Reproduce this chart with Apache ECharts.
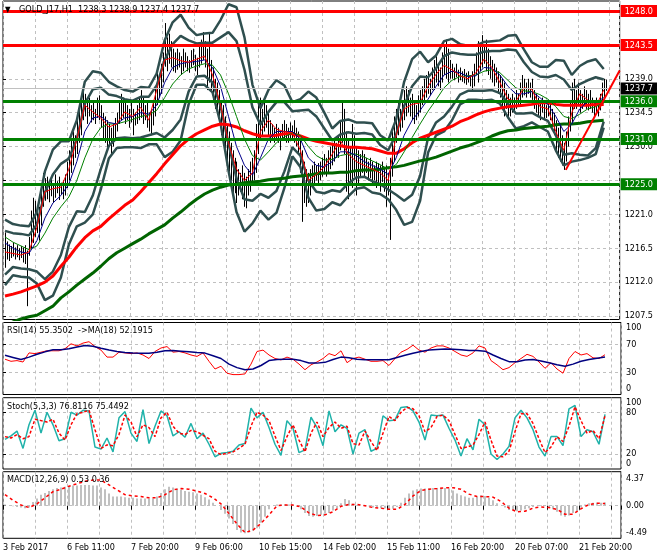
<!DOCTYPE html>
<html><head><meta charset="utf-8">
<script src="https://cdn.jsdelivr.net/npm/echarts@6/dist/echarts.min.js"></script>
<style>html,body{margin:0;padding:0;background:#fff}#c{width:660px;height:560px}</style>
</head><body><div id="c"></div>
<script>
const FONT = "'DejaVu Sans Condensed','Liberation Sans',sans-serif";

// ---- x axis ----
const timeLabels = ['3 Feb 2017','6 Feb 11:00','7 Feb 20:00','9 Feb 06:00','10 Feb 15:00','14 Feb 02:00','15 Feb 11:00','16 Feb 20:00','20 Feb 07:00','21 Feb 20:00'];
const barsPerLabel = 32;

// ---- price axis ----
const priceTicks = [1207.5,1212.0,1216.5,1221.0,1225.5,1230.0,1234.5,1239.0,1243.5,1248.0];
const priceLabels = [1207.5,1212.0,1216.5,1221.0,1225.0,1230.0,1231.0,1234.5,1236.0,1237.7,1239.0,1243.5,1248.0];
const redLevels = [1248.0,1243.5];
const greenLevels = [1236.0,1231.0,1225.0];
const bidPrice = 1237.7;
const trendLine = [[282,1226.9],[309,1240.1]];

// ---- hourly bars (bar n = index+1) ----
const barHigh = [
1218.6,1217.4,1217.0,1216.8,1217.2,1216.6,1216.9,1216.5,1216.8,1216.6,
1216.9,1216.2,1218.0,1221.5,1223.2,1222.8,1221.5,1222.0,1223.8,1226.5,
1225.8,1226.0,1225.2,1225.8,1225.0,1226.3,1225.4,1226.0,1225.2,1225.5,
1226.3,1228.0,1229.5,1231.0,1232.0,1231.5,1233.5,1234.8,1236.5,1237.6,
1237.0,1236.0,1236.5,1235.5,1235.8,1235.0,1236.5,1236.8,1235.5,1234.5,
1234.0,1233.5,1233.0,1232.5,1233.0,1233.8,1234.5,1236.0,1237.0,1236.5,
1236.0,1235.5,1235.0,1235.8,1235.0,1234.5,1235.5,1236.5,1237.5,1236.5,
1235.5,1235.8,1234.5,1235.0,1236.0,1238.0,1240.0,1239.5,1241.0,1242.5,
1246.4,1244.5,1245.0,1244.0,1243.0,1242.5,1243.0,1242.5,1242.0,1243.0,
1242.5,1242.0,1241.5,1242.8,1243.0,1242.2,1241.8,1243.5,1244.2,1245.2,
1244.0,1243.0,1245.0,1241.5,1240.5,1239.0,1238.5,1237.5,1236.0,1235.5,
1234.0,1233.0,1232.0,1230.5,1229.5,1228.5,1228.0,1227.0,1226.5,1227.5,
1226.5,1226.0,1227.0,1228.0,1228.5,1229.5,1233.0,1235.5,1236.5,1235.0,
1236.5,1235.5,1234.5,1233.5,1233.0,1232.5,1233.0,1232.5,1232.0,1233.0,
1233.5,1233.0,1232.5,1233.2,1232.8,1233.5,1232.5,1232.0,1231.0,1229.5,
1228.0,1227.0,1226.5,1227.0,1227.5,1228.0,1227.5,1227.8,1228.0,1228.5,
1229.0,1228.5,1229.5,1230.0,1230.5,1231.0,1230.5,1231.5,1233.5,1235.8,
1235.0,1232.0,1231.0,1230.0,1233.0,1231.5,1230.0,1229.5,1229.0,1229.5,
1229.0,1228.5,1228.0,1228.5,1228.0,1227.5,1228.0,1227.8,1227.5,1228.0,
1227.0,1227.5,1226.5,1228.5,1232.0,1234.0,1235.0,1235.8,1235.0,1236.0,
1237.5,1238.0,1237.5,1236.5,1237.0,1236.0,1235.5,1236.8,1237.5,1238.0,
1239.0,1239.5,1240.0,1239.0,1240.5,1241.5,1242.0,1241.0,1240.5,1242.5,
1243.5,1244.2,1243.0,1241.5,1241.0,1240.5,1241.0,1240.2,1240.5,1240.0,
1240.3,1239.8,1240.0,1239.5,1240.0,1241.0,1242.5,1244.0,1243.5,1244.8,
1243.5,1244.2,1243.0,1242.0,1241.5,1241.0,1240.5,1240.0,1239.5,1239.0,
1238.5,1237.5,1237.0,1236.5,1237.0,1236.5,1237.5,1237.0,1238.5,1239.5,
1239.0,1238.5,1239.0,1238.5,1239.0,1237.5,1237.0,1236.5,1236.0,1236.5,
1236.0,1235.5,1236.2,1235.8,1235.0,1234.5,1233.5,1232.5,1233.0,1231.5,
1230.5,1232.0,1234.0,1236.0,1238.5,1239.0,1237.5,1238.5,1237.5,1237.0,
1238.0,1237.5,1237.0,1237.5,1236.5,1236.0,1236.5,1236.0,1237.0,1238.5,
1239.0,1238.9];
const barLow = [
1213.9,1215.0,1214.8,1215.2,1215.4,1215.0,1215.3,1214.9,1215.2,1214.6,
1214.4,1208.8,1215.5,1216.5,1217.2,1218.0,1218.5,1217.5,1219.5,1222.0,
1222.8,1223.0,1222.6,1223.4,1222.5,1223.2,1223.8,1222.9,1223.6,1223.0,
1223.5,1224.5,1225.5,1226.5,1227.5,1228.5,1229.0,1230.5,1231.5,1233.5,
1234.0,1233.0,1234.0,1233.2,1233.5,1233.0,1233.8,1233.5,1232.5,1231.0,
1230.5,1229.5,1230.0,1229.0,1230.0,1231.0,1232.0,1233.0,1233.5,1233.8,
1233.0,1233.5,1232.5,1233.2,1231.5,1232.8,1233.0,1233.5,1233.8,1233.0,
1233.5,1232.5,1232.0,1231.5,1232.8,1234.0,1235.5,1236.5,1237.0,1238.5,
1240.6,1240.0,1241.0,1240.5,1240.0,1239.8,1240.2,1240.5,1239.5,1240.0,
1240.5,1240.0,1239.8,1240.5,1240.8,1240.0,1239.5,1240.5,1241.0,1241.5,
1240.5,1237.5,1238.5,1237.5,1236.0,1235.0,1234.5,1233.5,1231.5,1230.5,
1229.5,1227.5,1226.5,1225.5,1223.3,1223.8,1222.5,1223.5,1224.0,1223.0,
1222.0,1221.8,1223.5,1224.0,1225.0,1225.5,1226.5,1229.0,1231.0,1231.5,
1232.0,1232.5,1231.5,1230.5,1230.8,1230.5,1231.0,1230.5,1229.5,1230.8,
1231.0,1230.5,1230.5,1231.0,1230.8,1230.5,1230.0,1229.0,1226.5,1220.0,
1222.5,1222.0,1222.5,1223.5,1224.5,1225.0,1225.5,1225.0,1225.5,1226.0,
1226.3,1226.0,1226.5,1227.0,1227.5,1228.0,1228.5,1228.5,1229.5,1230.5,
1229.0,1224.0,1223.0,1225.0,1224.5,1226.0,1223.5,1225.0,1226.0,1226.5,
1226.0,1226.5,1225.5,1225.8,1225.0,1225.5,1224.5,1225.0,1224.0,1225.3,
1224.0,1222.0,1223.5,1217.6,1226.0,1228.0,1230.5,1231.5,1232.0,1232.5,
1233.5,1234.0,1234.5,1234.0,1233.5,1233.0,1233.5,1234.0,1234.5,1235.5,
1236.0,1236.5,1237.0,1236.8,1237.5,1237.5,1238.5,1238.0,1237.5,1238.5,
1239.5,1239.0,1238.5,1239.0,1239.0,1238.8,1239.2,1238.5,1238.8,1238.6,
1238.4,1238.2,1238.5,1238.0,1237.5,1238.0,1239.5,1238.5,1240.0,1240.5,
1241.0,1240.0,1239.5,1239.0,1238.5,1238.0,1238.5,1237.0,1236.5,1235.0,
1234.0,1235.0,1233.8,1234.0,1234.5,1234.5,1235.0,1235.5,1235.5,1236.5,
1236.8,1236.5,1237.0,1236.5,1236.2,1235.0,1234.5,1234.0,1233.5,1234.5,
1233.5,1233.8,1234.0,1233.5,1233.0,1231.5,1229.5,1228.5,1228.0,1227.5,
1226.9,1228.0,1230.0,1232.0,1233.0,1235.0,1235.0,1235.5,1234.5,1235.0,
1235.5,1235.0,1234.8,1235.0,1234.5,1234.0,1234.5,1234.0,1234.8,1235.5,
1236.5,1237.4];

// ---- main-window indicators, read every 4 bars starting at bar 1 ----
const maStep = 4;
const maFast = [
1216.0,1215.8,1215.6,1216.0,1219.3,1224.0,1224.4,1224.6,1227.0,1231.0,
1235.5,1234.6,1233.8,1232.6,1233.0,1234.6,1234.0,1235.2,1233.5,1237.5,
1241.5,1241.8,1241.4,1241.2,1241.6,1242.0,1239.5,1235.5,1230.5,1227.0,
1225.5,1226.5,1232.0,1233.5,1232.3,1232.0,1231.8,1229.5,1225.5,1226.3,
1227.3,1229.0,1230.8,1229.0,1228.0,1227.5,1227.0,1226.5,1225.5,1231.5,
1235.0,1235.6,1235.8,1238.0,1239.6,1240.8,1240.2,1239.4,1239.0,1239.8,
1241.6,1240.5,1238.5,1236.3,1236.0,1237.8,1237.6,1235.3,1235.0,1232.0,
1229.5,1234.5,1237.0,1236.2,1235.3,1237.5];
const maMid = [
1217.2,1216.5,1216.0,1215.8,1217.5,1220.5,1222.5,1223.5,1225.0,1228.0,
1232.0,1233.8,1234.0,1233.2,1233.0,1233.8,1234.0,1234.5,1234.3,1235.5,
1238.5,1240.5,1241.0,1241.2,1241.3,1241.5,1240.5,1238.0,1234.0,1230.0,
1227.5,1226.2,1228.5,1231.0,1232.0,1232.0,1232.0,1231.0,1228.5,1227.5,
1227.3,1228.0,1229.3,1229.3,1228.8,1228.0,1227.5,1227.0,1226.3,1228.5,
1231.5,1233.5,1234.8,1236.3,1238.0,1239.5,1240.0,1239.8,1239.3,1239.4,
1240.5,1240.4,1239.5,1238.0,1237.0,1237.0,1237.3,1236.5,1235.6,1234.0,
1232.0,1233.0,1235.0,1236.0,1235.8,1236.5];
const maSlow = [
1218.0,1217.3,1216.8,1216.3,1216.8,1218.5,1220.5,1222.0,1223.3,1225.5,
1228.5,1231.0,1232.5,1233.0,1233.0,1233.3,1233.6,1234.0,1234.2,1234.8,
1236.5,1238.3,1239.5,1240.3,1240.7,1241.0,1240.8,1239.5,1237.0,1234.0,
1231.0,1228.8,1228.2,1229.3,1230.5,1231.3,1231.8,1231.5,1230.0,1228.8,
1228.2,1228.3,1228.8,1229.0,1229.0,1228.6,1228.1,1227.6,1227.0,1227.6,
1229.3,1231.2,1233.0,1234.7,1236.2,1237.8,1238.8,1239.3,1239.4,1239.5,
1240.0,1240.2,1239.8,1238.8,1237.8,1237.4,1237.3,1236.9,1236.3,1235.3,
1234.0,1233.7,1234.3,1235.0,1235.3,1235.8];
const maLongRed = [
1210.15,1210.4,1210.7,1211.1,1211.5,1212.0,1212.8,1214.1,1215.3,1216.7,
1217.9,1218.8,1219.4,1220.4,1221.3,1222.2,1222.9,1224.0,1225.2,1226.4,
1227.7,1228.9,1230.1,1231.0,1231.7,1232.2,1232.7,1233.0,1232.9,1232.6,
1232.1,1231.7,1231.4,1231.4,1231.5,1231.7,1231.7,1231.4,1231.0,1230.7,
1230.5,1230.3,1230.1,1229.9,1229.9,1229.8,1229.7,1229.4,1229.1,1229.1,
1229.7,1230.5,1231.1,1231.5,1231.9,1232.3,1232.7,1233.3,1233.7,1234.2,
1234.6,1234.9,1235.1,1235.3,1235.4,1235.5,1235.6,1235.8,1235.8,1235.6,
1235.5,1235.5,1235.5,1235.5,1235.6,1235.6];
const maLongGreen = [
1206.3,1206.7,1207.1,1207.4,1207.6,1208.2,1208.8,1209.9,1210.7,1211.6,
1212.4,1213.2,1214.1,1215.1,1215.9,1216.5,1217.1,1217.7,1218.4,1219.0,
1219.6,1220.5,1221.3,1222.2,1223.0,1223.7,1224.2,1224.6,1224.9,1225.0,
1225.2,1225.3,1225.4,1225.6,1225.7,1225.8,1226.0,1226.1,1226.2,1226.4,
1226.5,1226.5,1226.6,1226.6,1226.8,1226.9,1226.9,1227.0,1227.2,1227.3,
1227.5,1227.8,1228.1,1228.3,1228.6,1229.0,1229.4,1229.8,1230.1,1230.5,
1230.9,1231.4,1231.8,1232.1,1232.2,1232.4,1232.5,1232.6,1232.7,1232.9,
1233.0,1233.0,1233.1,1233.3,1233.4,1233.5];
// Bollinger envelopes (dark slate lines), read every 4 bars
const bbInnerUp = [
1218.8,1218.5,1218.4,1218.2,1219.7,1223.9,1226.3,1227.7,1228.4,1231.0,
1235.7,1237.6,1237.8,1236.9,1236.7,1236.3,1236.1,1236.6,1236.6,1238.1,
1241.5,1243.6,1244.7,1244.1,1243.7,1243.8,1243.8,1244.5,1245.2,1244.0,
1240.2,1235.2,1232.9,1234.6,1235.9,1235.9,1234.7,1234.8,1234.9,1234.0,
1232.4,1230.8,1231.6,1231.9,1231.7,1231.8,1231.6,1230.2,1229.5,1231.6,
1235.4,1238.0,1239.3,1239.2,1240.4,1242.0,1242.5,1242.3,1242.2,1242.2,
1242.6,1242.7,1242.7,1242.9,1242.8,1241.2,1239.9,1239.3,1239.2,1239.5,
1238.9,1237.5,1238.3,1238.8,1239.2,1238.9];
const bbInnerLo = [
1213.0,1214.0,1213.8,1213.7,1213.4,1212.4,1213.4,1215.6,1219.3,1221.4,
1221.3,1223.5,1227.0,1230.1,1231.1,1231.2,1231.1,1231.2,1231.5,1231.8,
1231.2,1232.2,1233.6,1237.3,1239.3,1239.4,1238.5,1235.4,1230.4,1225.8,
1223.0,1222.8,1223.7,1223.2,1224.1,1226.7,1229.9,1228.8,1225.5,1224.0,
1223.8,1224.2,1224.0,1225.1,1225.9,1226.0,1225.4,1225.0,1224.3,1223.6,
1222.8,1223.6,1226.1,1231.2,1233.2,1234.0,1235.3,1236.9,1237.4,1237.4,
1237.4,1237.5,1237.1,1235.7,1234.4,1234.4,1234.5,1233.9,1233.4,1231.5,
1228.9,1229.1,1228.9,1228.8,1229.8,1233.3];
const bbOuterUp = [
1220.3,1219.7,1219.5,1219.4,1221.3,1226.7,1229.6,1230.7,1230.7,1233.5,
1238.6,1240.0,1239.8,1238.6,1238.0,1237.5,1237.3,1237.9,1237.8,1239.7,
1244.1,1246.5,1247.5,1245.8,1244.8,1245.0,1245.1,1246.8,1248.9,1248.5,
1244.5,1238.2,1235.1,1237.5,1238.8,1238.1,1235.9,1236.3,1237.3,1236.5,
1234.5,1232.4,1233.4,1233.6,1233.2,1233.2,1233.1,1231.5,1230.8,1233.6,
1238.6,1241.6,1242.6,1241.2,1242.1,1244.0,1244.3,1243.6,1243.4,1243.4,
1243.9,1244.0,1244.1,1244.7,1244.8,1242.9,1241.2,1240.6,1240.6,1241.5,
1241.4,1239.5,1240.7,1241.3,1241.6,1240.3];
const bbOuterLo = [
1211.6,1212.9,1212.7,1212.6,1211.8,1209.6,1210.2,1212.6,1217.0,1219.4,
1219.9,1221.0,1224.3,1228.4,1229.8,1229.9,1229.9,1229.8,1230.3,1230.3,
1228.6,1229.3,1230.8,1235.6,1238.2,1238.2,1237.2,1233.1,1226.8,1221.3,
1218.7,1219.8,1221.5,1220.3,1221.2,1224.5,1228.7,1227.3,1223.2,1221.5,
1221.7,1222.6,1222.2,1223.4,1224.4,1224.6,1223.9,1223.7,1223.0,1221.6,
1219.6,1220.0,1222.8,1229.2,1231.5,1232.0,1233.5,1235.6,1236.2,1236.2,
1236.1,1236.2,1235.7,1233.9,1232.4,1232.7,1233.2,1232.6,1232.0,1229.5,
1227.5,1228.0,1228.2,1228.5,1229.0,1232.5];

// ---- RSI window ----
const oscStep = 3;
const rsi = [
49,46,47,45,58,57,59,61,61,61,
64,71,68,72,74,67,62,52,52,59,
58,57,58,55,50,60,65,67,59,60,
58,55,53,58,46,35,39,29,27,27,
28,42,60,62,55,50,48,52,49,42,
34,41,45,50,57,54,61,44,50,52,
49,46,46,47,40,50,59,63,69,62,
59,65,68,68,65,60,55,53,58,68,
65,47,41,34,37,44,50,56,53,45,
36,44,35,29,50,60,55,57,51,50,
55.4];
const rsiMA = [
54.5,51.5,48.5,52,56,59.5,62.5,62.5,64,66.5,
68.5,67.5,64.5,62,60,58.5,57.7,57.5,57.5,59,
61,61.5,60.5,59.5,58.5,57.7,54,50,42,37,
34,35,40,47,48.5,49,49,47,43.5,43.4,
44.5,48.5,52,51,49,48.2,48.2,48.2,48.2,51.5,
54.5,57.5,60,62.2,63,63.4,63.2,62.5,61.5,61.5,
60.5,55,50,45.5,45.5,48,48.5,46.5,44,41,
38.8,42,46,48.5,50.5,52.2];
const rsiLabels = [0,30,70,100];
const rsiLevels = [30,70];

// ---- Stochastic window ----
const stochMain = [
41,46,53,28,62,83,50,80,62,39,
42,80,76,83,82,30,27,43,23,72,
81,50,38,84,35,60,82,75,46,52,
44,64,42,50,34,16,21,22,24,33,
35,86,72,80,58,34,18,68,57,22,
26,73,58,32,82,52,62,57,20,50,
55,24,28,75,68,69,87,88,82,66,
40,76,75,76,57,40,17,42,26,70,
62,20,12,20,31,72,83,72,55,30,
17,45,45,32,85,90,45,55,52,34,
77];
const stochSignal = [
45,43,48,42,45,70,68,66,70,50,
40,62,78,80,83,55,28,33,32,48,
76,66,45,62,58,45,72,80,60,50,
48,54,52,47,42,24,19,21,23,28,
34,60,80,76,68,46,25,45,62,40,
23,50,66,45,58,66,57,60,35,33,
53,38,25,50,74,68,80,87,85,75,
52,58,74,76,68,48,28,30,33,48,
66,40,17,16,24,52,78,78,64,42,
22,30,45,38,60,88,68,50,54,42,
75];
const stochLabels = [0,20,80,100];
const stochLevels = [20,80];

// ---- MACD window ----
const histStep = 2;
const macdHist = [
0.2,0.0,-0.1,-0.2,-0.3,-0.4,-0.3,0.6,1.2,1.8,
2.1,2.4,2.7,2.9,3.0,3.1,3.2,3.3,3.3,3.4,
3.4,3.4,3.3,3.3,3.0,2.7,2.0,1.5,1.5,1.5,
1.4,1.3,1.3,1.2,1.2,1.2,1.2,1.2,1.5,2.1,
2.7,3.1,3.0,2.8,2.6,2.4,2.3,2.2,2.0,1.8,
1.4,1.0,0.5,0.0,-0.7,-1.3,-2.1,-3.0,-4.0,-4.4,
-4.5,-4.4,-4.1,-3.7,-2.8,-1.8,-0.6,0.0,0.2,0.2,
0.2,0.2,0.1,0.0,-0.6,-1.2,-1.7,-1.8,-1.7,-1.5,
-1.3,-1.2,-0.8,-0.4,0.4,1.1,0.9,0.3,0.1,0.0,
0.0,-0.1,-0.3,-0.3,-0.4,-0.4,-0.5,-0.5,-0.2,0.5,
1.3,2.0,2.5,2.7,2.8,2.8,2.8,2.9,2.9,2.95,
2.9,2.8,2.5,2.0,1.7,1.5,1.3,1.3,1.5,1.7,
1.6,1.3,0.9,0.4,0.0,-0.3,-0.7,-0.8,-0.9,-0.8,
-0.6,-0.4,-0.2,0.0,0.1,0.0,-0.2,-0.6,-1.0,-1.6,
-1.8,-1.6,-1.2,-0.9,-0.3,0.2,0.4,0.5,0.5,0.5,
0.53];
const macdSignal = [
1.8,0.9,0.1,-0.3,0.3,1.3,2.3,2.7,3.2,3.6,
4.0,4.2,4.2,3.4,2.6,1.8,1.6,1.5,1.3,1.3,
1.8,2.6,2.8,2.7,2.4,2.0,1.3,0.3,-1.3,-3.0,
-4.4,-4.0,-2.9,-1.5,0.0,0.1,0.1,-0.2,-1.2,-1.6,
-1.5,-1.0,-0.1,0.2,0.2,0.0,-0.3,-0.4,-0.6,-0.6,
0.2,1.6,2.5,2.7,2.8,2.95,2.95,2.7,1.9,1.5,
1.5,1.4,0.7,-0.4,-1.0,-0.9,-0.4,-0.2,-0.3,-0.6,
-1.4,-1.4,-0.5,0.2,0.4,0.36];
const macdLabels = [-4.49,0,4.37];
const macdLevels = [0];

// ---- build ----
const pairs = (arr, step) => arr.map((v, i) => [1 + i * step, v]);
const X_MAX = 309;
const GRID_LINE = {color:'#c0c0c0', type:[3,3], width:1};
const labelPos = timeLabels.map((_, i) => i * barsPerLabel);

function xAxisFor(gridIndex, showLabels) {
  return {
    type:'value', gridIndex, min:0, max:X_MAX, interval:16,
    axisLine:{show:false},
    axisTick: showLabels ? {show:true, length:4, lineStyle:{color:'#000'}} : {show:false},
    axisLabel: showLabels ? {show:true, customValues:labelPos, formatter: v => timeLabels[Math.round(v / barsPerLabel)] || '',
      align:'left', margin:5, fontSize:9, fontFamily:FONT, color:'#000'} : {show:false},
    splitLine:{show:true, lineStyle:GRID_LINE}
  };
}
function oscAxis(gridIndex, min, max, ticks, labels, fmt) {
  return {
    type:'value', gridIndex, position:'right', min, max,
    axisLine:{show:false},
    axisTick:{show:true, customValues:ticks, length:3, lineStyle:{color:'#000'}},
    splitLine:{show:true, lineStyle:GRID_LINE},
    axisLabel:{customValues:labels, formatter:fmt, fontSize:9, fontFamily:FONT, color:'#000', margin:5,
      verticalAlignMinLabel:'bottom', verticalAlignMaxLabel:'top'}
  };
}
const lineS = (name, data, x, y, color, width, extra) => Object.assign({
  name, type:'line', xAxisIndex:x, yAxisIndex:y, data, symbol:'none', showSymbol:false, silent:true,
  animation:false, lineStyle:{color, width}, z:3
}, extra || {});
const BB = '#2f4f4f';

const option = {
  animation:false,
  backgroundColor:'#fff',
  grid:[
    {left:3, top:1, width:618, height:318.5, show:true, borderColor:'#000', borderWidth:1},
    {left:3, top:322.5, width:618, height:72, show:true, borderColor:'#000', borderWidth:1},
    {left:3, top:397.7, width:618, height:71.3, show:true, borderColor:'#000', borderWidth:1},
    {left:3, top:471.7, width:618, height:66.6, show:true, borderColor:'#000', borderWidth:1}
  ],
  xAxis:[xAxisFor(0,false), xAxisFor(1,false), xAxisFor(2,false), xAxisFor(3,true)],
  yAxis:[
    {type:'value', gridIndex:0, position:'right', min:1207.03, max:1249.33,
      axisLine:{show:false},
      axisTick:{show:true, customValues:priceTicks, length:3, lineStyle:{color:'#000'}},
      splitLine:{show:true, lineStyle:GRID_LINE},
      axisLabel:{customValues:priceLabels, margin:1, fontSize:9, fontFamily:FONT, color:'#000',
        formatter: v => {
          const s = v.toFixed(1);
          if (redLevels.includes(v)) return '{r|' + s + '}';
          if (greenLevels.includes(v)) return '{g|' + s + '}';
          if (v === bidPrice) return '{b|' + s + '}';
          return '{p|' + s + '}';
        },
        rich:{
          p:{padding:[0,0,0,4], color:'#000', fontSize:9, fontFamily:FONT},
          r:{backgroundColor:'#ff0000', color:'#fff', padding:[2,4,1,4], fontSize:9, fontFamily:FONT},
          g:{backgroundColor:'#008000', color:'#fff', padding:[2,4,1,4], fontSize:9, fontFamily:FONT},
          b:{backgroundColor:'#000000', color:'#fff', padding:[2,4,1,4], fontSize:9, fontFamily:FONT}
        }}},
    oscAxis(1, -1.4, 101.4, rsiLevels, rsiLabels, v => String(v)),
    oscAxis(2, -1.6, 101, stochLevels, stochLabels, v => String(v)),
    Object.assign(oscAxis(3, -5.34, 5.57, macdLevels, macdLabels, v => v.toFixed(2)),
      {axisLabel:{customValues:macdLabels, formatter:v => v.toFixed(2), fontSize:9, fontFamily:FONT, color:'#000', margin:5}})
  ],
  series:[
    {type:'custom', name:'bars', xAxisIndex:0, yAxisIndex:0, silent:true, animation:false, z:2,
      data: barHigh.map((h, i) => [i + 1, barLow[i], h]),
      encode:{x:0, y:[1,2]},
      renderItem:(params, api) => {
        const lo = api.coord([api.value(0), api.value(1)]);
        const hi = api.coord([api.value(0), api.value(2)]);
        const x = Math.round(lo[0]) + 0.5;
        return {type:'line', shape:{x1:x, y1:lo[1], x2:x, y2:hi[1]}, style:{stroke:'#000', lineWidth:1}};
      }},
    lineS('bbOuterUp', pairs(bbOuterUp, maStep), 0, 0, BB, 2.5),
    lineS('bbOuterLo', pairs(bbOuterLo, maStep), 0, 0, BB, 2.5),
    lineS('bbInnerUp', pairs(bbInnerUp, maStep), 0, 0, BB, 2.5),
    lineS('bbInnerLo', pairs(bbInnerLo, maStep), 0, 0, BB, 2.5),
    lineS('maLongGreen', pairs(maLongGreen, maStep), 0, 0, '#006400', 3),
    lineS('maLongRed', pairs(maLongRed, maStep), 0, 0, '#ff0000', 3),
    lineS('maSlow', pairs(maSlow, maStep), 0, 0, '#008000', 1),
    lineS('maMid', pairs(maMid, maStep), 0, 0, '#00008b', 1),
    lineS('maFast', pairs(maFast, maStep), 0, 0, '#ff0000', 1),
    lineS('trend', trendLine, 0, 0, '#ff0000', 2, {z:5,
      markLine:{symbol:['none','none'], silent:true, animation:false, label:{show:false},
        data:[
          ...redLevels.map(v => ({yAxis:v, lineStyle:{color:'#ff0000', width:3, type:'solid'}})),
          ...greenLevels.map(v => ({yAxis:v, lineStyle:{color:'#008000', width:3, type:'solid'}})),
          {yAxis:bidPrice, lineStyle:{color:'#c0c0c0', width:1, type:'solid'}}
        ]}}),
    lineS('rsi', pairs(rsi, oscStep), 1, 1, '#ff0000', 1),
    lineS('rsiMA', pairs(rsiMA, maStep), 1, 1, '#000080', 1.5),
    lineS('stochMain', pairs(stochMain, oscStep), 2, 2, '#20b2aa', 1.5),
    lineS('stochSignal', pairs(stochSignal, oscStep), 2, 2, '#ff0000', 1.5, {lineStyle:{color:'#ff0000', width:1.5, type:[3,2]}}),
    {type:'bar', name:'macd', xAxisIndex:3, yAxisIndex:3, data:pairs(macdHist, histStep), barWidth:2,
      itemStyle:{color:'#c0c0c0'}, silent:true, animation:false, z:2},
    lineS('macdSignal', pairs(macdSignal, maStep), 3, 3, '#ff0000', 1.5, {lineStyle:{color:'#ff0000', width:1.5, type:[3,3]}})
  ],
  graphic:[
    {type:'text', x:5, y:10, z:100, style:{text:'▼', font:'8px ' + FONT, fill:'#000', verticalAlign:'middle'}},
    {type:'text', x:19, y:10, z:100, style:{text:'GOLD_J17,H1  1238.3 1238.9 1237.4 1237.7', font:'9px ' + FONT, fill:'#000', verticalAlign:'middle'}},
    {type:'text', x:7, y:331, z:100, style:{text:'RSI(14) 55.3502  ->MA(18) 52.1915', font:'9px ' + FONT, fill:'#000', verticalAlign:'middle'}},
    {type:'text', x:7, y:407, z:100, style:{text:'Stoch(5,3,3) 76.8116 75.4492', font:'9px ' + FONT, fill:'#000', verticalAlign:'middle'}},
    {type:'text', x:7, y:480, z:100, style:{text:'MACD(12,26,9) 0.53 0.36', font:'9px ' + FONT, fill:'#000', verticalAlign:'middle'}}
  ]
};
const chart = echarts.init(document.getElementById('c'), null, {renderer:'canvas'});
chart.setOption(option);
</script>
</body></html>
